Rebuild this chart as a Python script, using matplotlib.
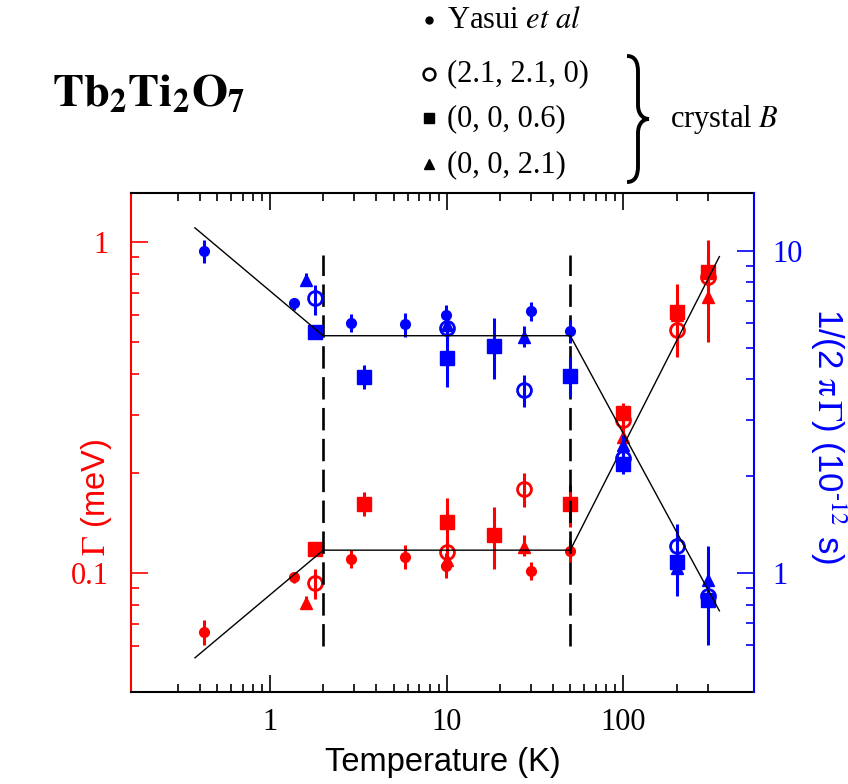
import numpy as np
import matplotlib
matplotlib.use('Agg')
import matplotlib.pyplot as plt
from matplotlib.path import Path
from matplotlib.patches import PathPatch
from matplotlib.ticker import FixedLocator, FixedFormatter, NullFormatter

plt.rcParams['font.family'] = ['Liberation Serif', 'DejaVu Serif']
plt.rcParams['mathtext.fontset'] = 'stix'

RED = '#ff0000'
BLUE = '#0000ff'
SANS = ['Liberation Sans', 'DejaVu Sans']

# ---------------- data ----------------
# Yasui et al (small filled circles)
yasui_T = [0.425, 1.37, 2.86, 5.8, 9.87, 30.0, 49.9]
yasui_G = [0.0663, 0.0973, 0.110, 0.1118, 0.105, 0.1014, 0.1165]
yasui_G_lo = [0.0604, 0.0933, 0.1031, 0.1024, 0.0962, 0.0950, 0.1075]
yasui_G_hi = [0.0719, 0.100, 0.1171, 0.1213, 0.1147, 0.108, 0.1256]
yasui_tau = [10.0, 6.88, 5.99, 5.92, 6.33, 6.51, 5.65]
yasui_tau_lo = [9.16, 6.56, 5.62, 5.40, 5.89, 6.08, 5.17]
yasui_tau_hi = [10.82, 7.13, 6.37, 6.41, 6.80, 6.93, 6.11]

# (2.1, 2.1, 0) open circles
circ_T = [1.8, 10, 27.4, 100, 200, 300]
circ_G = [0.0933, 0.1153, 0.179, 0.2895, 0.542, 0.785]
circ_G_lo = [0.0833, 0.1075, 0.1583, 0.2663, 0.449, 0.683]
circ_G_hi = [0.1024, 0.1236, 0.1998, 0.3148, 0.654, 0.903]
circ_tau = [7.13, 5.76, 3.71, 2.275, 1.218, 0.852]
circ_tau_lo = [6.33, 5.36, 3.27, 2.12, 1.046, 0.739]
circ_tau_hi = [7.85, 6.18, 4.12, 2.44, 1.42, 0.983]

# (0, 0, 0.6) filled squares
sq_T = [1.8, 3.4, 10, 18.5, 50, 100, 200, 300]
sq_G = [0.118, 0.1613, 0.142, 0.130, 0.1613, 0.3034, 0.6156, 0.813]
sq_G_lo = [0.1123, 0.1484, 0.1202, 0.1024, 0.1378, 0.2816, 0.5066, 0.651]
sq_G_hi = [0.1241, 0.1757, 0.1679, 0.1577, 0.184, 0.3266, 0.748, 1.016]
sq_tau = [5.62, 4.06, 4.67, 5.08, 4.10, 2.19, 1.086, 0.826]
sq_tau_lo = [5.36, 3.72, 3.79, 4.00, 3.52, 2.04, 0.850, 0.599]
sq_tau_hi = [5.89, 4.43, 5.82, 6.18, 4.70, 2.36, 1.269, 1.218]

# (0, 0, 2.1) filled triangles
tri_T = [1.6, 10, 27.4, 100, 200, 300]
tri_G = [0.0808, 0.1093, 0.1199, 0.2577, 0.60, 0.6834]
tri_G_lo = [0.0783, 0.104, 0.1125, 0.237, 0.56, 0.4995]
tri_G_hi = [0.085, 0.115, 0.130, 0.280, 0.64, 0.935]
tri_tau = [8.13, 5.9, 5.42, 2.50, 1.04, 0.953]
tri_tau_lo = [7.85, 5.6, 5.05, 2.33, 0.98, 0.826]
tri_tau_hi = [8.53, 6.2, 5.85, 2.69, 1.10, 1.10]

# guide lines
line_T = [0.376, 2, 50, 349]
line_G = [0.0553, 0.117, 0.117, 0.903]
line_tau = [11.8, 5.46, 5.46, 0.765]
dash_T = [2, 50]
dash_G = [0.0602, 0.913]

# axes ticks
x_major = [1, 10, 100]
x_labels = ['1', '10', '100']
x_minor = [0.3, 0.4, 0.5, 0.6, 0.7, 0.8, 0.9, 2, 3, 4, 5, 6, 7, 8, 9,
           20, 30, 40, 50, 60, 70, 80, 90, 200, 300]
g_major = [0.1, 1]
g_labels = ['0.1', '1']
g_minor = [0.06, 0.07, 0.08, 0.09, 0.2, 0.3, 0.4, 0.5, 0.6, 0.7, 0.8, 0.9]
t_major = [1, 10]
t_labels = ['1', '10']
t_minor = [0.6, 0.7, 0.8, 0.9, 2, 3, 4, 5, 6, 7, 8, 9]

legend_labels = [r'Yasui $et\ al$', '(2.1, 2.1, 0)', '(0, 0, 0.6)', '(0, 0, 2.1)']

# ---------------- figure ----------------
W, H = 848, 784
fig = plt.figure(figsize=(W / 100, H / 100), dpi=100)
L, R, T_, B_ = 131, 754, 192.7, 691.7
ax = fig.add_axes([L / W, 1 - B_ / H, (R - L) / W, (B_ - T_) / H])
ax.set_xscale('log')
ax.set_yscale('log')
ax.set_xlim(0.1634, 548)
ax.set_ylim(0.04368, 1.409)
ax2 = ax.twinx()
ax2.set_yscale('log')
ax2.set_ylim(0.4292, 15.17)

def px2fig(x, y):
    return x / W, 1 - y / H

# styles
styles = [
    dict(fmt='o', ms=7),
    dict(fmt='o', ms=10, mfc='none', mew=2.0),
    dict(fmt='s', ms=9.5),
    dict(fmt='^', ms=8),
]
sets_G = [(yasui_T, yasui_G, yasui_G_lo, yasui_G_hi),
          (circ_T, circ_G, circ_G_lo, circ_G_hi),
          (sq_T, sq_G, sq_G_lo, sq_G_hi),
          (tri_T, tri_G, tri_G_lo, tri_G_hi)]
sets_tau = [(yasui_T, yasui_tau, yasui_tau_lo, yasui_tau_hi),
            (circ_T, circ_tau, circ_tau_lo, circ_tau_hi),
            (sq_T, sq_tau, sq_tau_lo, sq_tau_hi),
            (tri_T, tri_tau, tri_tau_lo, tri_tau_hi)]

for (t, v, lo, hi), st in zip(sets_G, styles):
    v = np.array(v); lo = np.array(lo); hi = np.array(hi)
    kw = dict(st)
    fmt = kw.pop('fmt')
    ax.errorbar(t, v, yerr=[v - lo, hi - v], fmt=fmt, color=RED, ecolor=RED,
                elinewidth=2.2, capsize=0, zorder=3, **kw)
for (t, v, lo, hi), st in zip(sets_tau, styles):
    v = np.array(v); lo = np.array(lo); hi = np.array(hi)
    kw = dict(st)
    fmt = kw.pop('fmt')
    ax2.errorbar(t, v, yerr=[v - lo, hi - v], fmt=fmt, color=BLUE, ecolor=BLUE,
                 elinewidth=2.2, capsize=0, zorder=3, **kw)

ax.plot(line_T, line_G, color='black', lw=1.0, zorder=4)
ax2.plot(line_T, line_tau, color='black', lw=1.0, zorder=4)
for xd in dash_T:
    ax.plot([xd, xd], dash_G, color='black', lw=1.9, linestyle=(0, (8.5, 3.2)), zorder=4)

# ticks
ax.xaxis.set_major_locator(FixedLocator(x_major))
ax.xaxis.set_major_formatter(FixedFormatter(x_labels))
ax.xaxis.set_minor_locator(FixedLocator(x_minor))
ax.xaxis.set_minor_formatter(NullFormatter())
ax.yaxis.set_major_locator(FixedLocator(g_major))
ax.yaxis.set_major_formatter(FixedFormatter(g_labels))
ax.yaxis.set_minor_locator(FixedLocator(g_minor))
ax.yaxis.set_minor_formatter(NullFormatter())
ax2.yaxis.set_major_locator(FixedLocator(t_major))
ax2.yaxis.set_major_formatter(FixedFormatter(t_labels))
ax2.yaxis.set_minor_locator(FixedLocator(t_minor))
ax2.yaxis.set_minor_formatter(NullFormatter())

ax.tick_params(axis='x', which='both', direction='in', top=True, bottom=True,
               color='black', labelsize=22, pad=12)
ax.tick_params(axis='x', which='major', length=12, width=1.2)
ax.tick_params(axis='x', which='minor', length=6, width=1.2)
ax.tick_params(axis='y', which='both', direction='in', left=True, right=False,
               color=RED, labelcolor=RED, labelsize=22, pad=16)
ax.tick_params(axis='y', which='major', length=12, width=1.2)
ax.tick_params(axis='y', which='minor', length=6, width=1.2)
ax2.tick_params(axis='y', which='both', direction='in', left=False, right=True,
                color=BLUE, labelcolor=BLUE, labelsize=22, pad=13)
ax2.tick_params(axis='y', which='major', length=12, width=1.2)
ax2.tick_params(axis='y', which='minor', length=6, width=1.2)

for a in (ax, ax2):
    for s in a.spines.values():
        s.set_linewidth(1.5)
ax.spines['left'].set_color(RED)
ax.spines['right'].set_visible(False)
ax2.spines['left'].set_visible(False)
ax2.spines['right'].set_color(BLUE)
ax2.spines['top'].set_visible(False)
ax2.spines['bottom'].set_visible(False)

# axis labels
fig.text(*px2fig(443, 763), 'Temperature (K)', ha='center', va='center',
         fontsize=23.5, family=SANS)
fig.text(*px2fig(97, 497), r'$\Gamma$ (meV)', ha='center', va='center',
         rotation=90, fontsize=23.5, family=SANS, color=RED)
fig.text(*px2fig(828, 436), r'1/(2 $\mathrm{\pi}\,\Gamma$) (10$^{\text{-12}}$ s)', ha='center',
         va='center', rotation=270, fontsize=25, family=SANS, color=BLUE)

# title
fig.text(*px2fig(52, 107), r'$\mathbf{Tb_2Ti_2O_7}$', ha='left', va='baseline',
         fontsize=33.5)

# legend
leg_marks = ['o', 'o', 's', '^']
leg_ms = [5, 8.5, 7, 7.5]
leg_y_mark = [20, 74, 118, 164]
leg_y_text = [28.3, 81.7, 126, 172]
for lab, m, ms, ym, yt in zip(legend_labels, leg_marks, leg_ms, leg_y_mark, leg_y_text):
    fx, fy = px2fig(429, ym)
    if m == 'o' and ms > 6:
        fig.add_artist(plt.Line2D([fx], [fy], marker='o', ms=ms, mfc='none',
                                  mec='black', mew=1.8, ls='none'))
    else:
        fig.add_artist(plt.Line2D([fx], [fy], marker=m, ms=ms, color='black', ls='none'))
    fig.text(*px2fig(447, yt), lab, ha='left', va='baseline', fontsize=22)

fig.text(*px2fig(670, 127), r'crystal $B$', ha='left', va='baseline', fontsize=22)

# brace
bx = [(627, 56), (635, 56), (638, 62), (638, 72),
      (638, 105), (638, 114), (643, 119), (649, 119),
      (643, 119), (638, 124), (638, 133),
      (638, 166), (638, 176), (635, 182), (627, 182)]
codes = [Path.MOVETO, Path.CURVE4, Path.CURVE4, Path.CURVE4,
         Path.LINETO, Path.CURVE4, Path.CURVE4, Path.CURVE4,
         Path.CURVE4, Path.CURVE4, Path.CURVE4,
         Path.LINETO, Path.CURVE4, Path.CURVE4, Path.CURVE4]
verts = [px2fig(x, y) for x, y in bx]
fig.add_artist(PathPatch(Path(verts, codes), fill=False, lw=2.8, ec='black',
                         transform=fig.transFigure))

fig.savefig('out.png', dpi=100)
